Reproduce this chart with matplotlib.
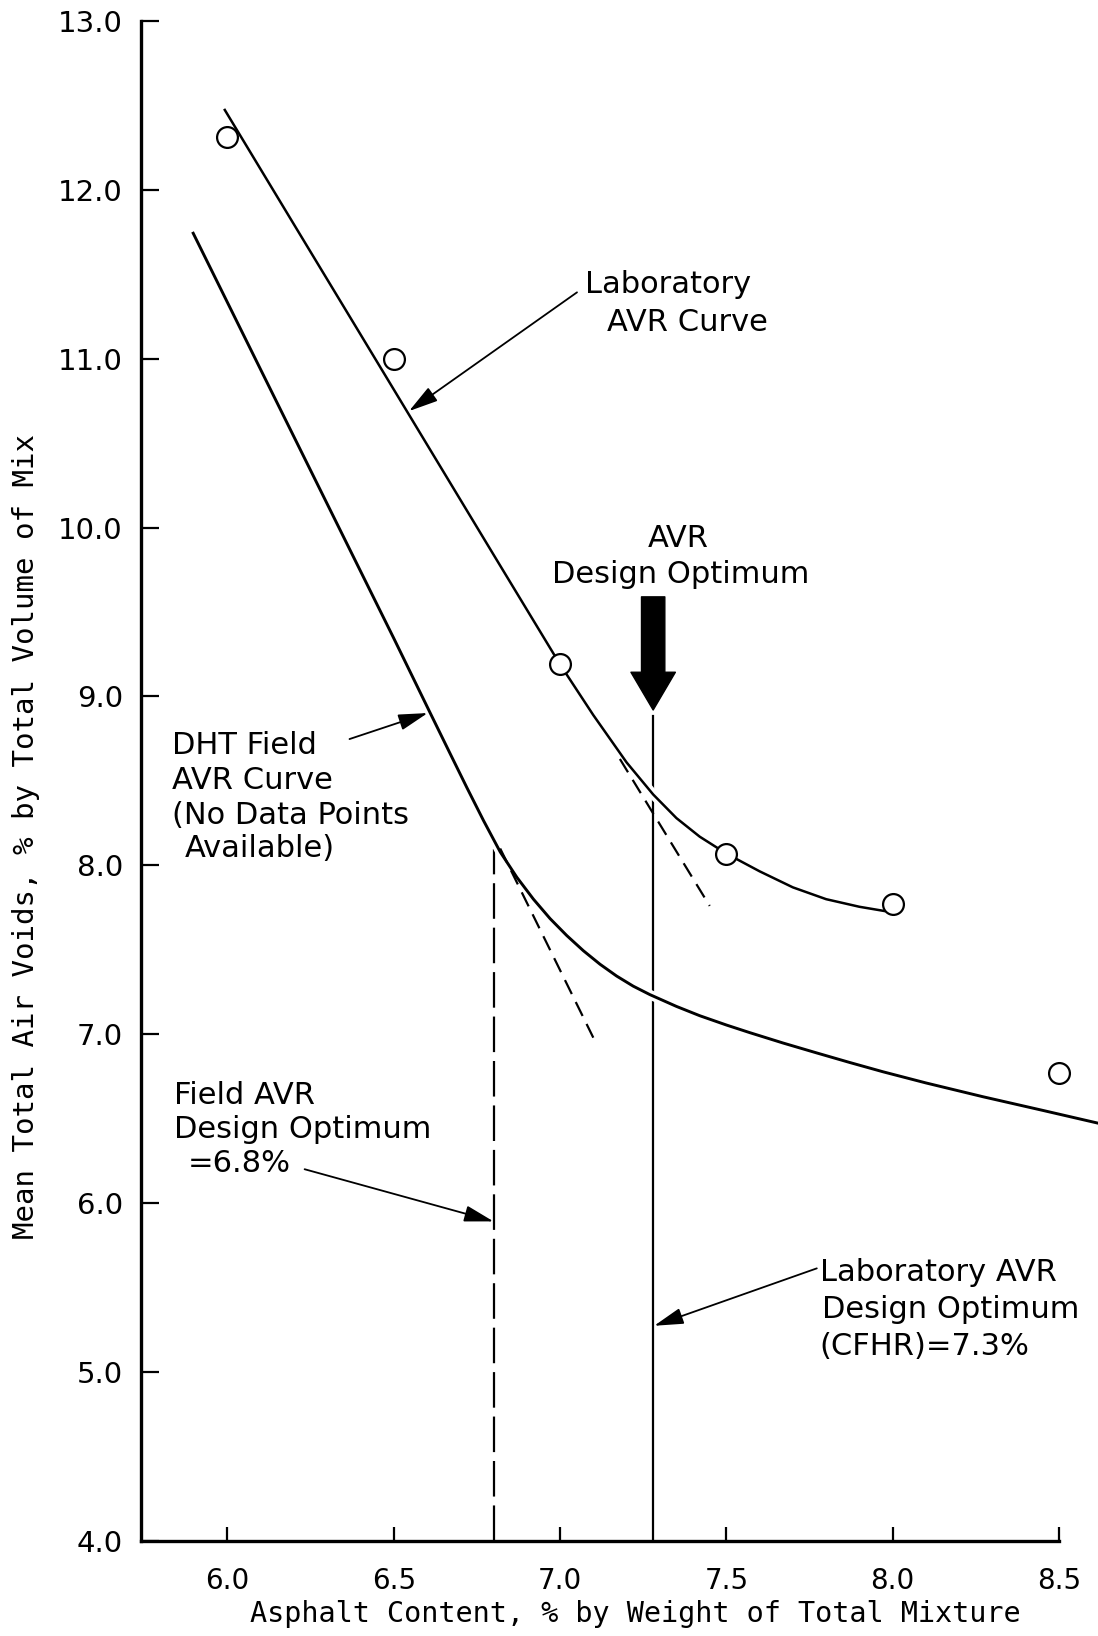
import matplotlib
matplotlib.use("Agg")
import matplotlib.pyplot as plt
import matplotlib.patheffects as pe

# Lab data points (asphalt content %, mean total air voids %)
lab_x = [6.0, 6.5, 7.0, 7.5, 8.0, 8.5]
lab_y = [12.31, 11.0, 9.19, 8.07, 7.77, 6.77]

# Laboratory AVR curve
lab_curve_x = [5.992, 6.2, 6.4, 6.6, 6.7, 6.8, 6.9, 7.0, 7.1, 7.2, 7.28, 7.35,
               7.42, 7.5, 7.6, 7.7, 7.8, 7.9, 7.975]
lab_curve_y = [12.473, 11.795, 11.144, 10.492, 10.166, 9.84, 9.515, 9.19, 8.89, 8.61, 8.42, 8.28,
               8.17, 8.07, 7.965, 7.87, 7.80, 7.755, 7.73]

# DHT field AVR curve (no data points)
field_x = [5.897, 6.1, 6.3, 6.5, 6.609, 6.669, 6.72, 6.77, 6.82, 6.87, 6.92, 6.97,
           7.02, 7.07, 7.12, 7.17, 7.22, 7.27, 7.35, 7.42, 7.5, 7.57, 7.671, 7.771,
           7.871, 7.971, 8.1, 8.272, 8.45, 8.617]
field_y = [11.743, 10.935, 10.14, 9.345, 8.905, 8.664, 8.46, 8.265, 8.08, 7.93, 7.80, 7.685,
           7.585, 7.495, 7.415, 7.345, 7.285, 7.235, 7.165, 7.11, 7.055, 7.01, 6.948, 6.89,
           6.833, 6.778, 6.712, 6.63, 6.55, 6.474]

# tangent construction lines
lab_tan_x = [7.18, 7.45]
lab_tan_y = [8.63, 7.76]
field_tan_x = [6.82, 7.10]
field_tan_y = [8.10, 6.98]

field_opt = 6.8
lab_opt = 7.28

xticks = [6.0, 6.5, 7.0, 7.5, 8.0, 8.5]
yticks = [4.0, 5.0, 6.0, 7.0, 8.0, 9.0, 10.0, 11.0, 12.0, 13.0]

plt.rcParams["font.family"] = "DejaVu Sans"

fig = plt.figure(figsize=(10.98, 16.36), dpi=100)
ax = fig.add_axes([0.1284, 0.0581, 0.836, 0.9291])

# white halo so the optimum line is broken where the curves cross it
halo = [pe.withStroke(linewidth=7, foreground="white")]
ax.plot(lab_curve_x, lab_curve_y, color="k", lw=1.8, clip_on=False, zorder=3,
        solid_joinstyle="round", path_effects=halo)
ax.plot(field_x, field_y, color="k", lw=2.1, clip_on=False, zorder=3,
        solid_joinstyle="round", path_effects=halo)
ax.plot(lab_x, lab_y, "o", ms=15, mfc="white", mec="k", mew=1.6, clip_on=False, zorder=5)

ax.plot(lab_tan_x, lab_tan_y, color="k", lw=1.6, dashes=(7, 4), zorder=4)
ax.plot(field_tan_x, field_tan_y, color="k", lw=1.6, dashes=(7, 4), zorder=4)

# optimum verticals
ax.plot([field_opt, field_opt], [4.0, 8.1], color="k", lw=1.6, dashes=(16, 4), zorder=2)
ax.plot([lab_opt, lab_opt], [4.0, 8.885], color="k", lw=1.6, zorder=2)

# heavy arrow for AVR design optimum
ax.annotate("", xy=(lab_opt, 8.92), xytext=(lab_opt, 9.59),
            arrowprops=dict(arrowstyle="simple,head_length=0.68,head_width=0.8,tail_width=0.42",
                            mutation_scale=40, fc="k", ec="k", shrinkA=0, shrinkB=0))

arrow_kw = dict(arrowstyle="-|>,head_length=0.9,head_width=0.25", mutation_scale=20,
                color="k", lw=1.3, shrinkA=0, shrinkB=0)

fs = 22
txt = dict(fontsize=fs, va="center_baseline")

ax.text(7.325, 11.455, "Laboratory", ha="center", **txt)
ax.text(7.382, 11.232, "AVR Curve", ha="center", **txt)
ax.annotate("", xy=(6.546, 10.69), xytext=(7.051, 11.393), arrowprops=arrow_kw, zorder=6)

ax.text(7.355, 9.953, "AVR", ha="center", **txt)
ax.text(7.364, 9.743, "Design Optimum", ha="center", **txt)

ax.text(5.834, 8.729, "DHT Field", ha="left", **txt)
ax.text(5.834, 8.519, "AVR Curve", ha="left", **txt)
ax.text(5.834, 8.315, "(No Data Points", ha="left", **txt)
ax.text(5.871, 8.117, "Available)", ha="left", **txt)
ax.annotate("", xy=(6.602, 8.902), xytext=(6.367, 8.748), arrowprops=arrow_kw, zorder=6)

ax.text(5.84, 6.653, "Field AVR", ha="left", **txt)
ax.text(5.84, 6.455, "Design Optimum", ha="left", **txt)
ax.text(5.881, 6.251, "=6.8%", ha="left", **txt)
ax.annotate("", xy=(6.80, 5.892), xytext=(6.232, 6.201), arrowprops=arrow_kw, zorder=6)

ax.text(7.782, 5.608, "Laboratory AVR", ha="left", **txt)
ax.text(7.788, 5.386, "Design Optimum", ha="left", **txt)
ax.text(7.779, 5.169, "(CFHR)=7.3%", ha="left", **txt)
ax.annotate("", xy=(7.283, 5.274), xytext=(7.772, 5.614), arrowprops=arrow_kw, zorder=6)

ax.set_xlim(5.74, 8.5)
ax.set_ylim(4.0, 13.0)
ax.set_xticks(xticks)
ax.set_xticklabels([f"{v:.1f}" for v in xticks])
ax.set_yticks(yticks)
ax.set_yticklabels([f"{v:.1f}" for v in yticks])

for s in ["top", "right"]:
    ax.spines[s].set_visible(False)
ax.spines["left"].set_linewidth(2.4)
ax.spines["bottom"].set_linewidth(2.4)

ax.tick_params(axis="y", direction="in", length=13, width=1.6, pad=13, labelsize=21)
ax.tick_params(axis="x", direction="in", length=10, width=1.6, pad=19, labelsize=20)

# axis titles, spaced out lettering
fig.text(0.0237, 0.4884, "Mean Total Air Voids, % by Total Volume of Mix", rotation=90,
         ha="center", va="center", fontsize=21, family="DejaVu Sans Mono")
fig.text(0.579, 0.0135, "Asphalt Content, % by Weight of Total Mixture",
         ha="center", va="center", fontsize=20.5, family="DejaVu Sans Mono")

fig.savefig("out.png", dpi=100)
